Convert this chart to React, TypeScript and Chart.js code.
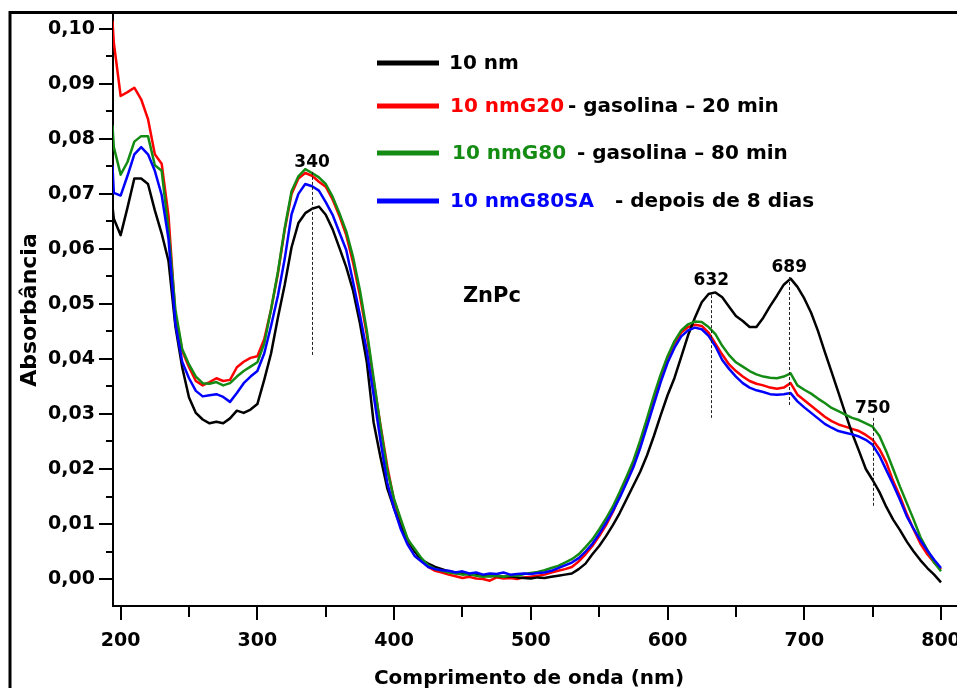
import React, { useEffect, useRef } from "react";
import { Chart, registerables } from "chart.js";

Chart.register(...registerables);

// Wavelength grid (nm)
const WAVELENGTHS = [
  194,
  195, 200, 205, 210, 215, 220, 225, 230, 235, 240,
  245, 250, 255, 260, 265, 270, 275, 280, 285, 290,
  295, 300, 305, 310, 315, 320, 325, 330, 335, 340,
  345, 350, 355, 360, 365, 370, 375, 380, 385, 390,
  395, 400, 405, 410, 415, 420, 425, 430, 435, 440,
  445, 450, 455, 460, 465, 470, 475, 480, 485, 490,
  495, 500, 505, 510, 515, 520, 525, 530, 535, 540,
  545, 550, 555, 560, 565, 570, 575, 580, 585, 590,
  595, 600, 605, 610, 615, 620, 625, 630, 635, 640,
  645, 650, 655, 660, 665, 670, 675, 680, 685, 690,
  695, 700, 705, 710, 715, 720, 725, 730, 735, 740,
  745, 750, 755, 760, 765, 770, 775, 780, 785, 790,
  795, 800,
];

// Absorbance: 10 nm film
const ABS_10NM = [
  0.0678,
  0.0655, 0.0625, 0.0675, 0.0728, 0.0728, 0.0718, 0.067, 0.0628, 0.0578, 0.046,
  0.0385, 0.033, 0.0302, 0.029, 0.0283, 0.0286, 0.0283, 0.0292, 0.0306, 0.0302,
  0.0308, 0.0318, 0.0362, 0.041, 0.0475, 0.0535, 0.0603, 0.0647, 0.0665, 0.0673,
  0.0677, 0.0662, 0.0636, 0.0602, 0.0567, 0.0524, 0.0465, 0.0395, 0.0285, 0.0222,
  0.0165, 0.0128, 0.0095, 0.0072, 0.005, 0.0035, 0.0028, 0.0022, 0.0018, 0.0014,
  0.0012, 0.001, 0.0008, 0.0009, 0.0007, 0.0005, 0.0006, 0.0004, 0.0005, 0.0003,
  0.0002, 0.0001, 0.0003, 0.0002, 0.0004, 0.0006, 0.0008, 0.001, 0.0018, 0.0028,
  0.0045, 0.006, 0.0078, 0.0098, 0.012, 0.0145, 0.017, 0.0195, 0.0225, 0.026,
  0.0298, 0.0334, 0.0365, 0.0404, 0.0443, 0.0475, 0.0503, 0.0518, 0.0521, 0.0512,
  0.0495, 0.0478, 0.0469, 0.0458, 0.0458, 0.0475, 0.0496, 0.0515, 0.0535, 0.0546,
  0.0531, 0.051, 0.0484, 0.0451, 0.0413, 0.0376, 0.0339, 0.0301, 0.0265, 0.0233,
  0.02, 0.018, 0.0158, 0.0131, 0.0108, 0.0089, 0.0068, 0.005, 0.0034, 0.002,
  0.0008, -0.0006,
];

// Absorbance: 10 nmG20 (gasolina, 20 min)
const ABS_G20 = [
  0.1015,
  0.0975, 0.0878, 0.0885, 0.0893, 0.0872, 0.0836, 0.0772, 0.0755, 0.066, 0.048,
  0.0415, 0.0385, 0.036, 0.0352, 0.0358, 0.0365, 0.036, 0.0362, 0.0385, 0.0395,
  0.0402, 0.0405, 0.0436, 0.049, 0.0555, 0.0635, 0.07, 0.0728, 0.0738, 0.0733,
  0.0722, 0.0713, 0.069, 0.066, 0.0625, 0.0575, 0.0515, 0.0445, 0.036, 0.028,
  0.0205, 0.0142, 0.0105, 0.0068, 0.0052, 0.0035, 0.0022, 0.0015, 0.0012, 0.0008,
  0.0005, 0.0002, 0.0004, 0.0001, 0.0, -0.0003, 0.0003, 0.0001, 0.0002, 0.0,
  0.0003, 0.0004, 0.0006, 0.0008, 0.0012, 0.0015, 0.0018, 0.0022, 0.0032, 0.0045,
  0.006, 0.0078, 0.0098, 0.0122, 0.015, 0.0178, 0.0208, 0.0245, 0.0285, 0.0328,
  0.0368, 0.0402, 0.0428, 0.0448, 0.0458, 0.0462, 0.046, 0.0448, 0.0428, 0.0408,
  0.039, 0.0378, 0.0368, 0.036, 0.0355, 0.0352, 0.0348, 0.0346, 0.0348, 0.0356,
  0.0335, 0.0325, 0.0315, 0.0305, 0.0295, 0.0287, 0.0281, 0.0277, 0.0273, 0.0269,
  0.0262, 0.0253, 0.0236, 0.0212, 0.0178, 0.015, 0.0118, 0.009, 0.0064, 0.0045,
  0.003, 0.0017,
];

// Absorbance: 10 nmG80 (gasolina, 80 min)
const ABS_G80 = [
  0.0825,
  0.0785, 0.0735, 0.0758, 0.0795, 0.0805, 0.0805, 0.0752, 0.0742, 0.0635, 0.049,
  0.0418, 0.039, 0.0368, 0.0356, 0.0355, 0.0358, 0.0352, 0.0356, 0.0368, 0.0378,
  0.0386, 0.0394, 0.0428, 0.049, 0.0558, 0.0638, 0.0705, 0.0732, 0.0745, 0.0738,
  0.073, 0.0718, 0.0695, 0.0665, 0.0632, 0.0585, 0.0525, 0.0452, 0.0365, 0.0278,
  0.0198, 0.0145, 0.0108, 0.0072, 0.0055, 0.0038, 0.0025, 0.0018, 0.0015, 0.0012,
  0.001, 0.0008, 0.0009, 0.0006, 0.0004, 0.0005, 0.0006, 0.0004, 0.0007, 0.0006,
  0.0009, 0.0011, 0.0013, 0.0016, 0.002, 0.0024, 0.003, 0.0036, 0.0045, 0.0058,
  0.0072, 0.009, 0.011, 0.0132, 0.0158, 0.0186, 0.0215, 0.0252, 0.0292, 0.0334,
  0.0372, 0.0405, 0.0432, 0.0452, 0.0463, 0.0468, 0.0467, 0.0458, 0.0445, 0.0424,
  0.0407, 0.0394, 0.0386, 0.0378, 0.0372, 0.0368, 0.0366, 0.0365, 0.0368, 0.0374,
  0.0352, 0.0344, 0.0337, 0.0328, 0.032, 0.0311, 0.0305, 0.0299, 0.0293, 0.0289,
  0.0283, 0.0277, 0.026, 0.0232, 0.02, 0.0168, 0.0138, 0.0108, 0.0076, 0.0053,
  0.003, 0.0014,
];

// Absorbance: 10 nmG80SA (depois de 8 dias)
const ABS_G80SA = [
  0.0752,
  0.0702, 0.0697, 0.0733, 0.0772, 0.0785, 0.0772, 0.0742, 0.0698, 0.0618, 0.0465,
  0.0395, 0.0365, 0.0342, 0.0332, 0.0334, 0.0336, 0.0331, 0.0322, 0.0338, 0.0356,
  0.0368, 0.0378, 0.041, 0.046, 0.0515, 0.0582, 0.0663, 0.07, 0.0718, 0.0714,
  0.0706, 0.0685, 0.0662, 0.063, 0.0598, 0.054, 0.048, 0.0415, 0.0335, 0.0252,
  0.0175, 0.0128, 0.009, 0.0062, 0.0042, 0.0032, 0.0022, 0.0018, 0.0016, 0.0015,
  0.0012, 0.0014, 0.001, 0.0012, 0.0008, 0.001, 0.0009, 0.0012, 0.0008, 0.0009,
  0.001, 0.0009, 0.0011, 0.0012, 0.0015, 0.002, 0.0025, 0.003, 0.0038, 0.005,
  0.0064, 0.0082, 0.0102, 0.0124, 0.0148, 0.0175, 0.0203, 0.0238, 0.0278, 0.0318,
  0.0358, 0.0393, 0.042, 0.0441, 0.0452, 0.0457, 0.0454, 0.0442, 0.0423, 0.0398,
  0.0382, 0.0368, 0.0356, 0.0348, 0.0343, 0.034, 0.0336, 0.0335, 0.0336, 0.0338,
  0.0323, 0.0312, 0.0302, 0.0292, 0.0282, 0.0275, 0.0269, 0.0266, 0.0263, 0.0259,
  0.0253, 0.0244, 0.0224, 0.0198, 0.0172, 0.0144, 0.0114, 0.0091, 0.007, 0.0052,
  0.0035, 0.002,
];

const SERIES_LABELS = ["10 nm", "10 nmG20", "10 nmG80", "10 nmG80SA"];
const SERIES_NOTES = ["", "- gasolina \u2013 20 min", "- gasolina \u2013 80 min", "- depois de 8 dias"];
const SERIES_COLORS = ["#000000", "#ff0000", "#148c14", "#0000ff"];
const SERIES_VALUES = [ABS_10NM, ABS_G20, ABS_G80, ABS_G80SA];

const X_TICKS = [200, 300, 400, 500, 600, 700, 800];
const X_MINOR_TICKS = [250, 350, 450, 550, 650, 750];
const Y_TICKS = [0, 0.01, 0.02, 0.03, 0.04, 0.05, 0.06, 0.07, 0.08, 0.09, 0.1];
const Y_MINOR_TICKS = [0.005, 0.015, 0.025, 0.035, 0.045, 0.055, 0.065, 0.075, 0.085, 0.095];

const PEAK_LABELS = ["340", "632", "689", "750"];
const PEAK_WAVELENGTHS = [340, 632, 689, 750];
const PEAK_TOP = [0.074, 0.0516, 0.0549, 0.0293];
const PEAK_BOTTOM = [0.0404, 0.0293, 0.0313, 0.0131];

const SAMPLE_NAME = "ZnPc";
const X_TITLE = "Comprimento de onda (nm)";
const Y_TITLE = "Absorb\u00e2ncia";

// Layout / styling
const W = 957;
const H = 688;
const FONT = "'DejaVu Sans', sans-serif";
const X_MIN = 194.4;
const X_MAX = 811.7;
const Y_MIN = -0.0049;
const Y_MAX = 0.1027;
const PLOT_LEFT = 113;
const PLOT_TOP = 14;
const X_AXIS_BAND = H - 606;
const PEAK_LABEL_GAP = [5, 10, 5, 5];
const LEGEND_LINE = [377, 439];
const LEGEND_ROWS = [63, 106, 153, 201];
const LEGEND_LABEL_X = [449, 450, 452, 450];
const LEGEND_NOTE_X = [0, 568, 577, 615];

const decorations = {
  id: "decorations",
  afterDatasetsDraw(chart: any) {
    const { ctx } = chart;
    const x = chart.scales.x;
    const y = chart.scales.y;
    ctx.save();
    // dashed peak markers
    ctx.setLineDash([3, 2]);
    ctx.lineWidth = 1;
    ctx.strokeStyle = "#222";
    PEAK_WAVELENGTHS.forEach((wl, i) => {
      const px = Math.round(x.getPixelForValue(wl)) + 0.5;
      ctx.beginPath();
      ctx.moveTo(px, y.getPixelForValue(PEAK_TOP[i]));
      ctx.lineTo(px, y.getPixelForValue(PEAK_BOTTOM[i]));
      ctx.stroke();
    });
    ctx.setLineDash([]);
    ctx.fillStyle = "#000";
    ctx.font = `bold 17px ${FONT}`;
    ctx.textAlign = "center";
    ctx.textBaseline = "alphabetic";
    PEAK_LABELS.forEach((t, i) => {
      ctx.fillText(
        t,
        x.getPixelForValue(PEAK_WAVELENGTHS[i]),
        y.getPixelForValue(PEAK_TOP[i]) - PEAK_LABEL_GAP[i]
      );
    });
    // sample name
    ctx.font = `bold 21px ${FONT}`;
    ctx.textAlign = "left";
    ctx.textBaseline = "middle";
    ctx.fillText(SAMPLE_NAME, x.getPixelForValue(450.3), y.getPixelForValue(0.0513));
    ctx.restore();
  },
  afterDraw(chart: any) {
    const { ctx, chartArea } = chart;
    const x = chart.scales.x;
    const y = chart.scales.y;
    ctx.save();
    // outer frame (top and left edges)
    ctx.strokeStyle = "#000";
    ctx.lineWidth = 3;
    ctx.beginPath();
    ctx.moveTo(10, H);
    ctx.lineTo(10, 12.5);
    ctx.lineTo(W, 12.5);
    ctx.stroke();

    // tick marks
    ctx.lineWidth = 2;
    const b = chartArea.bottom;
    const l = chartArea.left;
    const tick = (x0: number, y0: number, x1: number, y1: number) => {
      ctx.beginPath();
      ctx.moveTo(x0, y0);
      ctx.lineTo(x1, y1);
      ctx.stroke();
    };
    X_TICKS.forEach((v) => {
      const p = Math.round(x.getPixelForValue(v));
      tick(p, b, p, b + 14);
    });
    X_MINOR_TICKS.forEach((v) => {
      const p = Math.round(x.getPixelForValue(v));
      tick(p, b, p, b + 11);
    });
    Y_TICKS.forEach((v) => {
      const p = Math.round(y.getPixelForValue(v));
      tick(l - 14, p, l, p);
    });
    Y_MINOR_TICKS.forEach((v) => {
      const p = Math.round(y.getPixelForValue(v));
      tick(l - 7, p, l, p);
    });

    // axis titles
    ctx.fillStyle = "#000";
    ctx.font = `bold 20px ${FONT}`;
    ctx.textAlign = "center";
    ctx.textBaseline = "alphabetic";
    ctx.fillText(X_TITLE, 529, 684);
    ctx.save();
    ctx.translate(36, 310);
    ctx.rotate(-Math.PI / 2);
    ctx.font = `bold 22px ${FONT}`;
    ctx.fillText(Y_TITLE, 0, 0);
    ctx.restore();

    // legend
    ctx.lineWidth = 5;
    ctx.lineCap = "butt";
    ctx.font = `bold 20px ${FONT}`;
    ctx.textAlign = "left";
    ctx.textBaseline = "middle";
    SERIES_LABELS.forEach((label, i) => {
      const ry = LEGEND_ROWS[i];
      ctx.strokeStyle = SERIES_COLORS[i];
      tick(LEGEND_LINE[0], ry, LEGEND_LINE[1], ry);
      ctx.fillStyle = SERIES_COLORS[i];
      ctx.fillText(label, LEGEND_LABEL_X[i], ry + 1);
      if (SERIES_NOTES[i]) {
        ctx.fillStyle = "#000";
        ctx.fillText(SERIES_NOTES[i], LEGEND_NOTE_X[i], ry + 1);
      }
    });
    ctx.restore();
  },
};

export default function App() {
  const canvasRef = useRef<HTMLCanvasElement | null>(null);

  useEffect(() => {
    if (!canvasRef.current) return;
    const tickFont = { family: FONT, size: 19, weight: "bold" as const };
    const chart = new Chart(canvasRef.current, {
      type: "line",
      data: {
        datasets: SERIES_VALUES.map((vals, i) => ({
          label: SERIES_LABELS[i],
          data: WAVELENGTHS.map((wl, k) => ({ x: wl, y: vals[k] })),
          borderColor: SERIES_COLORS[i],
          backgroundColor: SERIES_COLORS[i],
          borderWidth: 2.5,
          pointRadius: 0,
          fill: false,
          tension: 0,
          order: i === 0 ? 3 : 4 - i,
        })),
      },
      options: {
        responsive: false,
        animation: false,
        devicePixelRatio: 1,
        layout: { padding: { top: PLOT_TOP, left: 0, right: 0, bottom: 0 } },
        plugins: { legend: { display: false }, tooltip: { enabled: false } },
        elements: { line: { borderJoinStyle: "round" } },
        scales: {
          x: {
            type: "linear",
            min: X_MIN,
            max: X_MAX,
            grid: { display: false, drawTicks: false },
            border: { display: true, color: "#000", width: 2 },
            ticks: {
              stepSize: 100,
              includeBounds: false,
              autoSkip: false,
              maxRotation: 0,
              padding: 24,
              color: "#000",
              font: tickFont,
              callback: (v: any) => String(v),
            },
            afterFit: (s: any) => {
              s.height = X_AXIS_BAND;
              s.paddingLeft = 0;
              s.paddingRight = 0;
            },
          },
          y: {
            type: "linear",
            min: Y_MIN,
            max: Y_MAX,
            grid: { display: false, drawTicks: false },
            border: { display: true, color: "#000", width: 2 },
            ticks: {
              stepSize: 0.01,
              includeBounds: false,
              padding: 18,
              color: "#000",
              font: tickFont,
              callback: (v: any) => Number(v).toFixed(2).replace(".", ","),
            },
            afterFit: (s: any) => {
              s.width = PLOT_LEFT;
              s.paddingTop = 0;
              s.paddingBottom = 0;
            },
          },
        },
      },
      plugins: [decorations],
    });
    return () => chart.destroy();
  }, []);

  return (
    <div
      style={{
        position: "fixed",
        left: 0,
        top: 0,
        width: W,
        height: H,
        overflow: "hidden",
        background: "#fff",
      }}
    >
      <canvas ref={canvasRef} width={W} height={H} style={{ display: "block" }} />
    </div>
  );
}
